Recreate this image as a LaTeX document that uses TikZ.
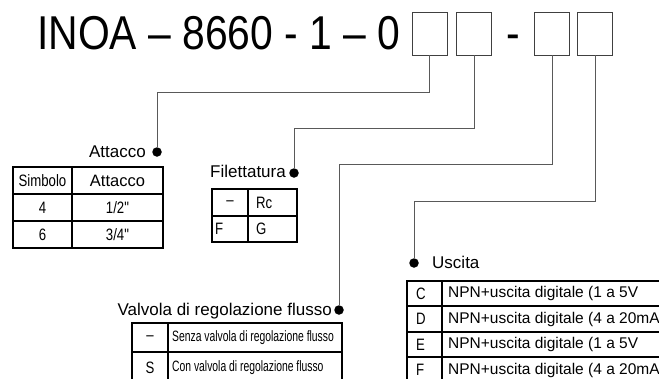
\documentclass[tikz,border=0pt]{standalone}
\usepackage{fontspec}
\setmainfont{Liberation Sans}
\newfontfamily\titlefont[FakeStretch=0.86]{Liberation Sans}
\newfontfamily\condfont[FakeStretch=0.8]{Liberation Sans}
\newfontfamily\vcondfont[FakeStretch=0.69]{Liberation Sans}
\begin{document}
\begin{tikzpicture}[x=1pt,y=-1pt,
  codebox/.style={draw=black!75, line width=0.9pt, minimum width=35pt, minimum height=43pt, inner sep=0pt},
  conn/.style={draw=black!65, line width=0.9pt},
  dotnode/.style={circle, fill=black, inner sep=0pt, minimum size=9.5pt},
  tbl/.style={draw=black, line width=1.3pt},
  lbl/.style={font=\fontsize{17}{20}\selectfont, inner sep=0pt},
  cell/.style={font=\condfont\fontsize{16.5}{19}\selectfont, inner sep=0pt},
  vcell/.style={font=\vcondfont\fontsize{15}{18}\selectfont, inner sep=0pt},
  wcell/.style={font=\fontsize{16.5}{19}\selectfont, inner sep=0pt},
  ucell/.style={font=\fontsize{15.5}{18}\selectfont, inner sep=0pt},
  ttl/.style={font=\titlefont\fontsize{47.5}{50}\selectfont, inner sep=0pt}
]
\clip (0,0) rectangle (659,378);
% title
\node[ttl, anchor=base west] (title) at (37,49) {INOA – 8660 - 1 – 0};
\node[codebox] (b1) at (429.5,33.5) {};
\node[codebox] (b2) at (474,33.5) {};
\node[ttl, anchor=base] (dash) at (513,49) {-};
\node[codebox] (b3) at (552,33.5) {};
\node[codebox] (b4) at (595,33.5) {};
% connectors
\coordinate (k1) at (157,92);
\coordinate (k2) at (294,128);
\coordinate (k3) at (339,164);
\coordinate (k4) at (414,201);
\node[dotnode] (d1) at (157,152) {};
\node[dotnode] (d2) at (294,173) {};
\node[dotnode] (d3) at (339,310) {};
\node[dotnode] (d4) at (414,263) {};
\draw[conn] (b1.south) |- (k1) -- (d1);
\draw[conn] (b2.south) |- (k2) -- (d2);
\draw[conn] (b3.south) |- (k3) -- (d3);
\draw[conn] (b4.south) |- (k4) -- (d4);
% labels
\node[lbl, anchor=base east] (latt) at (146,157) {Attacco};
\node[lbl, anchor=base east] (lfil) at (286,177) {Filettatura};
\node[lbl, anchor=base east] (lval) at (332,315) {Valvola di regolazione flusso};
\node[lbl, anchor=base west] (lusc) at (432,268) {Uscita};
% Attacco table
\draw[tbl] (13,167) rectangle (163,248);
\draw[tbl] (13,194) -- (163,194) (13,221) -- (163,221) (72,167) -- (72,248);
\node[cell] (a11) at (42.5,180.5) {Simbolo};
\node[wcell] (a12) at (117.5,180.5) {Attacco};
\node[cell] (a21) at (42.5,207.5) {4};
\node[cell] (a22) at (117.5,207.5) {1/2"};
\node[cell] (a31) at (42.5,234.5) {6};
\node[cell] (a32) at (117.5,234.5) {3/4"};
% Filettatura table
\draw[tbl] (212,189) rectangle (297,242);
\draw[tbl] (212,216) -- (297,216) (248,189) -- (248,242);
\node[cell] (f11) at (230,203.5) {–};
\node[cell, anchor=west] (f12) at (256,202.5) {Rc};
\node[cell, anchor=west] (f21) at (215,229) {F};
\node[cell, anchor=west] (f22) at (256,229) {G};
% Valvola table
\draw[tbl] (132,383) -- (132,323) -- (342,323) -- (342,383);
\draw[tbl] (132,352) -- (342,352) (168,323) -- (168,383) (132,381) -- (342,381);
\node[cell] (v11) at (150,338) {–};
\node[vcell, anchor=west] (v12) at (172,338) {Senza valvola di regolazione flusso};
\node[cell] (v21) at (150,368) {S};
\node[vcell, anchor=west] (v22) at (172,368) {Con valvola di regolazione flusso};
% Uscita table
\draw[tbl] (407,390) -- (407,281) -- (670,281);
\draw[tbl] (407,306) -- (670,306) (407,332) -- (670,332) (407,357) -- (670,357) (442,281) -- (442,390);
\node[cell, anchor=west] (u11) at (416,293.5) {C};
\node[ucell, anchor=west] (u12) at (448,293.5) {NPN+uscita digitale (1 a 5V};
\node[cell, anchor=west] (u21) at (416,319) {D};
\node[ucell, anchor=west] (u22) at (448,319) {NPN+uscita digitale (4 a 20mA};
\node[cell, anchor=west] (u31) at (416,344.5) {E};
\node[ucell, anchor=west] (u32) at (448,344.5) {NPN+uscita digitale (1 a 5V};
\node[cell, anchor=west] (u41) at (416,370) {F};
\node[ucell, anchor=west] (u42) at (448,370) {NPN+uscita digitale (4 a 20mA};
\end{tikzpicture}
\end{document}
